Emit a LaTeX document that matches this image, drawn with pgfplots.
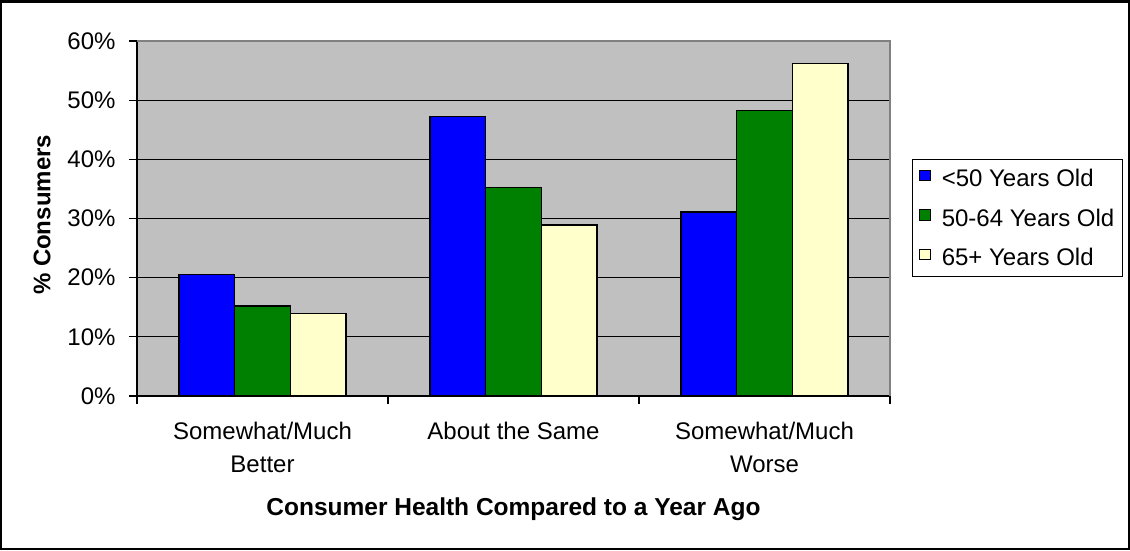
\documentclass[border=0pt]{standalone}
\usepackage{pgfplots}
\pgfplotsset{compat=1.18}
\usepackage{graphicx}
\usepackage{fontspec}
\setmainfont{Liberation Sans}
\definecolor{bgray}{HTML}{C0C0C0}
\definecolor{cblue}{HTML}{0000FF}
\definecolor{cgreen}{HTML}{008000}
\definecolor{cyel}{HTML}{FFFFCC}
\definecolor{bordgray}{HTML}{808080}
\pgfplotsset{sq/.style={legend image code/.code={\draw[##1, line width=0.8pt] (0pt,-2.25pt) rectangle (10.5pt,8.25pt);}}}
\begin{document}
\begin{tikzpicture}
\useasboundingbox (-137pt,-154pt) rectangle (993pt,396pt);
\begin{axis}[
  at={(0pt,0pt)}, anchor=south west,
  scale only axis, width=753pt, height=355pt,
  xmin=-0.5, xmax=2.5, ymin=0, ymax=60,
  clip=false,
  axis x line*=bottom, axis y line*=left,
  axis line style={line width=1.2pt, black},
  axis background/.style={fill=bgray},
  ytick={0,10,...,60},
  yticklabels={0\%,10\%,20\%,30\%,40\%,50\%,60\%},
  ymajorgrids, major grid style={line width=1.3pt, black},
  xtick={0,1,2},
  xticklabels={{Somewhat/Much\\Better},{About the Same},{Somewhat/Much\\Worse}},
  minor xtick={-0.5,0.5,1.5,2.5},
  tick align=outside,
  major tick length=8pt, minor tick length=8pt,
  every major x tick/.append style={draw=none},
  every minor x tick/.append style={line width=1.2pt, black},
  every major y tick/.append style={line width=1.2pt, black},
  ticklabel style={font=\fontsize{24}{32.5}\selectfont},
  xticklabel style={align=center, anchor=north, yshift=-15pt},
  yticklabel style={anchor=east, xshift=-10pt},
  xlabel={Consumer Health Compared to a Year Ago},
  xlabel style={at={(axis description cs:0.5,0)}, anchor=base, yshift=-119pt, font=\fontsize{24.5}{28}\selectfont\bfseries},
  ylabel={\% Consumers},
  every axis y label/.style={at={(axis description cs:-0.126,0.51)}, rotate=90, anchor=center, font=\fontsize{24}{28}\selectfont\bfseries},
  legend cell align=left,
  legend style={at={(axis description cs:1.0292,0.6676)}, anchor=north west, draw=black, line width=1pt, fill=white,
    font=\fontsize{24}{28}\selectfont, inner xsep=7pt, inner ysep=7.5pt, row sep=16.5pt, column sep=10pt,
    nodes={inner sep=1pt, text height=18.5pt, text depth=2.5pt}},
]
\addplot[ybar, bar width=0.222, bar shift=-0.222, fill=cblue, draw=black, line width=1.2pt, sq] coordinates {(0,20.6) (1,47.3) (2,31.1)};
\addplot[ybar, bar width=0.222, bar shift=0, fill=cgreen, draw=black, line width=1.2pt, sq] coordinates {(0,15.2) (1,35.2) (2,48.3)};
\addplot[ybar, bar width=0.222, bar shift=0.222, fill=cyel, draw=black, line width=1.2pt, sq] coordinates {(0,13.9) (1,28.9) (2,56.2)};
\legend{\textless50 Years Old, 50-64 Years Old, 65+ Years Old}
\draw[bordgray, line width=1.2pt] (rel axis cs:0,1) -- (rel axis cs:1,1) -- (rel axis cs:1,0);
\end{axis}
\draw[line width=2.5pt] (-135.75pt,-152.75pt) rectangle (991.75pt,394.75pt);
\end{tikzpicture}
\end{document}
